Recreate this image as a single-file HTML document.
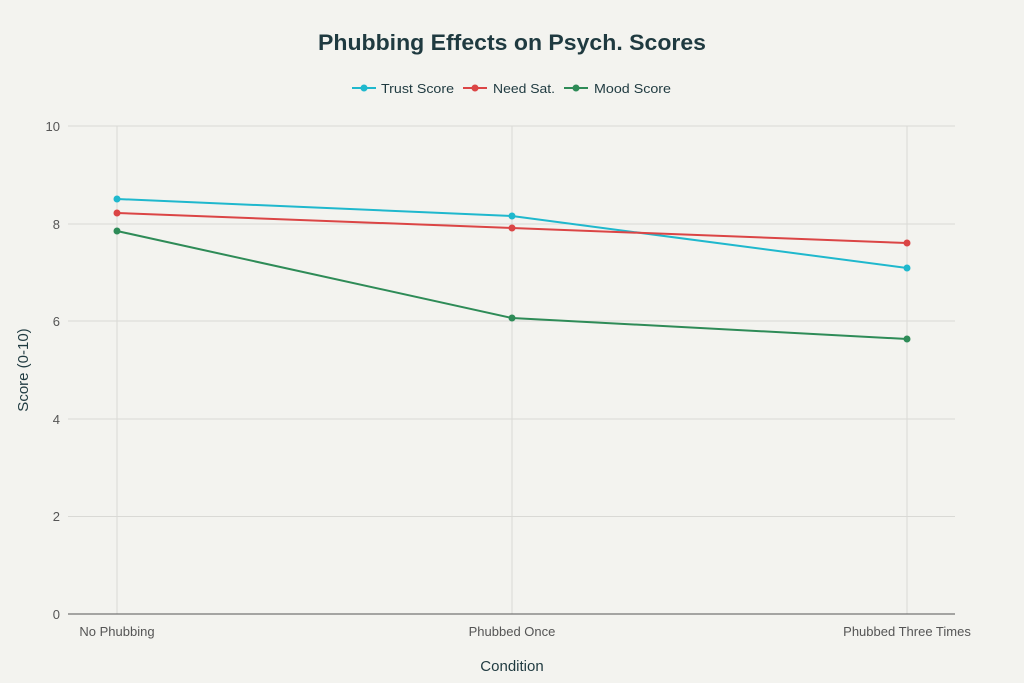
<!DOCTYPE html>
<html><head><style>body{margin:0;background:#f3f3ef}svg{display:block}</style></head><body>
<svg width="1024" height="683" xmlns="http://www.w3.org/2000/svg" font-family="Liberation Sans, sans-serif">
<rect width="1024" height="683" fill="#f3f3ef"/>
<text x="318" y="50" textLength="388" lengthAdjust="spacingAndGlyphs" font-size="22" font-weight="bold" fill="#1f3a40">Phubbing Effects on Psych. Scores</text>
<g font-size="13" fill="#1f3a40">
<line x1="352" y1="88" x2="376" y2="88" stroke="#1fb8cd" stroke-width="2"/><circle cx="364" cy="88" r="3.5" fill="#1fb8cd"/><text x="381" y="93" textLength="73" lengthAdjust="spacingAndGlyphs">Trust Score</text>
<line x1="463" y1="88" x2="487" y2="88" stroke="#db4545" stroke-width="2"/><circle cx="475" cy="88" r="3.5" fill="#db4545"/><text x="493" y="93" textLength="62" lengthAdjust="spacingAndGlyphs">Need Sat.</text>
<line x1="564" y1="88" x2="588" y2="88" stroke="#2e8b57" stroke-width="2"/><circle cx="576" cy="88" r="3.5" fill="#2e8b57"/><text x="594" y="93" textLength="77" lengthAdjust="spacingAndGlyphs">Mood Score</text>
</g>
<g stroke="#d9d9d5" stroke-width="1">
<line x1="68" y1="126" x2="955" y2="126"/><line x1="68" y1="224" x2="955" y2="224"/><line x1="68" y1="321" x2="955" y2="321"/><line x1="68" y1="419" x2="955" y2="419"/><line x1="68" y1="516.5" x2="955" y2="516.5"/>
<line x1="117" y1="126" x2="117" y2="614"/><line x1="512" y1="126" x2="512" y2="614"/><line x1="907" y1="126" x2="907" y2="614"/>
</g>
<line x1="68" y1="614" x2="955" y2="614" stroke="#555" stroke-width="1"/>
<g font-size="13" fill="#555" text-anchor="end">
<text x="60" y="131">10</text><text x="60" y="229">8</text><text x="60" y="326">6</text><text x="60" y="424">4</text><text x="60" y="521">2</text><text x="60" y="619">0</text>
</g>
<g font-size="13" fill="#555" text-anchor="middle">
<text x="117" y="636">No Phubbing</text><text x="512" y="636">Phubbed Once</text><text x="907" y="636">Phubbed Three Times</text>
</g>
<text x="512" y="671" text-anchor="middle" font-size="15" fill="#1f3a40">Condition</text>
<text transform="translate(28,370) rotate(-90)" text-anchor="middle" font-size="15" fill="#1f3a40">Score (0-10)</text>
<polyline points="117,199 512,216 907,268" fill="none" stroke="#1fb8cd" stroke-width="2"/>
<polyline points="117,213 512,228 907,243" fill="none" stroke="#db4545" stroke-width="2"/>
<polyline points="117,231 512,318 907,339" fill="none" stroke="#2e8b57" stroke-width="2"/>
<g fill="#1fb8cd"><circle cx="117" cy="199" r="3.5"/><circle cx="512" cy="216" r="3.5"/><circle cx="907" cy="268" r="3.5"/></g>
<g fill="#db4545"><circle cx="117" cy="213" r="3.5"/><circle cx="512" cy="228" r="3.5"/><circle cx="907" cy="243" r="3.5"/></g>
<g fill="#2e8b57"><circle cx="117" cy="231" r="3.5"/><circle cx="512" cy="318" r="3.5"/><circle cx="907" cy="339" r="3.5"/></g>
</svg>
</body></html>
